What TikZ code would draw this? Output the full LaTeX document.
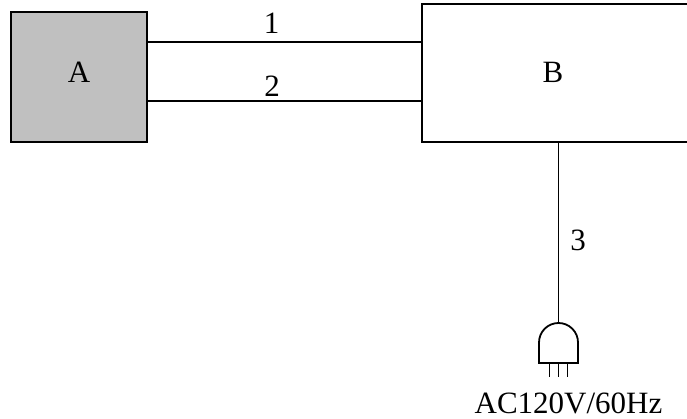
\documentclass[tikz,border=0pt]{standalone}
\usepackage{fontspec}
\setmainfont{Liberation Serif}
\definecolor{boxgray}{HTML}{C0C0C0}
\begin{document}
\begin{tikzpicture}[x=1pt,y=-1pt,
  every path/.style={line width=1.8pt},
  blk/.style={draw, line width=1.8pt, rectangle, inner sep=0pt},
  lbl/.style={inner sep=0pt, anchor=base, font=\fontsize{31}{36}\selectfont}]
\useasboundingbox (0,0) rectangle (687,419);
\node[blk, fill=boxgray, minimum width=136pt, minimum height=130pt] (A) at (79,77) {};
\node[blk, minimum width=267pt, minimum height=138pt] (B) at (555.5,73) {};
\node[lbl] (At) at (79,83) {A};
\node[lbl] (Bt) at (553,83) {B};
\coordinate (y1) at (0,42);
\coordinate (y2) at (0,101);
\coordinate (plug) at (558.5,323);
\draw (A.east |- y1) -- (B.west |- y1);
\draw (A.east |- y2) -- (B.west |- y2);
\draw (B.south -| plug) -- (plug);
\draw (539,363) -- (539,342.5) arc[start angle=180, end angle=360, radius=19.5] -- (578,363) -- cycle;
\draw[line width=1.4pt] (549.5,363) -- (549.5,377) (558.5,363) -- (558.5,377) (567.5,363) -- (567.5,377);
\node[lbl] (l1) at (271.5,34) {1};
\node[lbl] (l2) at (272,97) {2};
\node[lbl] (l3) at (578,251) {3};
\node[lbl] (ac) at (568.5,413) {AC120V/60Hz};
\end{tikzpicture}
\end{document}
